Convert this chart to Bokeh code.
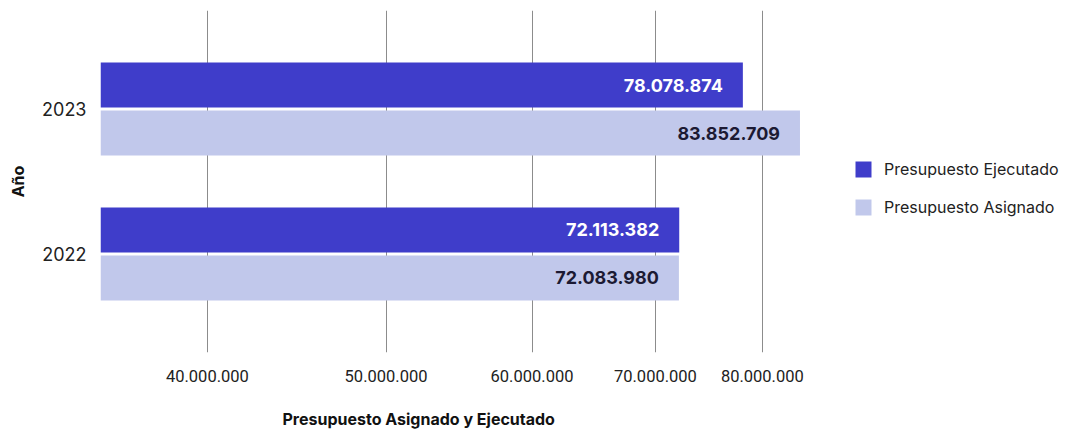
from bokeh.plotting import figure
from bokeh.models import (ColumnDataSource, FactorRange, Range1d, FixedTicker, Legend,
                          LegendItem, Title)
from bokeh.transform import dodge
from bokeh.core.properties import value
from bokeh.embed import file_html
from bokeh.resources import INLINE

# ---- data ----
years = ["2022", "2023"]
ejecutado = [72113382, 78078874]
asignado = [72083980, 83852709]
tick_values = [40000000, 50000000, 60000000, 70000000, 80000000]
tick_labels = ["40.000.000", "50.000.000", "60.000.000", "70.000.000", "80.000.000"]
series_names = ["Presupuesto Ejecutado", "Presupuesto Asignado"]
x_title = "Presupuesto Asignado y Ejecutado"
y_title = "Año"


def fmt(v):
    return f"{v:,}".replace(",", ".")


DARK = "#3f3dca"
LIGHT = "#c1c8eb"
TXT_DARK = "#1c1a33"
FONT = "Inter"

x_start = 35000000
x_end = 89650000

src = ColumnDataSource(dict(
    year=years,
    ejec=ejecutado,
    asig=asignado,
    ejec_lbl=[fmt(v) for v in ejecutado],
    asig_lbl=[fmt(v) for v in asignado],
))

p = figure(
    frame_width=753, frame_height=342,
    x_axis_type="log",
    x_range=Range1d(x_start, x_end),
    y_range=FactorRange(factors=years, range_padding=0.18, range_padding_units="absolute"),
    output_backend="svg", toolbar_location=None,
    min_border_top=10, min_border_left=100, min_border_bottom=82, min_border_right=0,
    outline_line_color=None,
)

off = 0.1656
bh = 0.3105
r_e = p.hbar(y=dodge("year", off, range=p.y_range), left=x_start, right="ejec",
             height=bh, source=src, fill_color=DARK, line_color=None)
r_a = p.hbar(y=dodge("year", -off, range=p.y_range), left=x_start, right="asig",
             height=bh, source=src, fill_color=LIGHT, line_color=None)

p.text(x="ejec", y=dodge("year", off, range=p.y_range), text="ejec_lbl", source=src,
       x_offset=-20, text_align="right", text_baseline="middle",
       text_font=value(FONT), text_font_style="bold", text_font_size="18px",
       text_color="white")
p.text(x="asig", y=dodge("year", -off, range=p.y_range), text="asig_lbl", source=src,
       x_offset=-20, text_align="right", text_baseline="middle",
       text_font=value(FONT), text_font_style="bold", text_font_size="18px",
       text_color=TXT_DARK)

# axes
xa = p.xaxis[0]
xa.ticker = FixedTicker(ticks=tick_values, minor_ticks=[])
xa.major_label_overrides = {t: l for t, l in zip(tick_values, tick_labels)}
xa.axis_line_color = None
xa.major_tick_line_color = None
xa.minor_tick_line_color = None
xa.major_label_standoff = 11
xa.major_label_text_font = "Roboto"
xa.major_label_text_font_size = "16.5px"
xa.major_label_text_color = "#222222"

ya = p.yaxis[0]
ya.axis_line_color = None
ya.major_tick_line_color = None
ya.minor_tick_line_color = None
ya.major_label_standoff = 8
ya.major_label_text_font = FONT
ya.major_label_text_font_size = "18px"
ya.major_label_text_color = "#222222"
ya.axis_label = y_title
ya.axis_label_text_font = FONT
ya.axis_label_text_font_style = "bold"
ya.axis_label_text_font_size = "16px"
ya.axis_label_text_color = "#111111"
ya.axis_label_standoff = 11

p.xgrid.ticker = FixedTicker(ticks=tick_values, minor_ticks=[])
p.xgrid.grid_line_color = "#8c8c8c"
p.xgrid.grid_line_width = 1
p.ygrid.grid_line_color = None

t = Title(text=x_title, align="left", offset=182, standoff=44, text_font=FONT,
          text_font_style="bold", text_font_size="16px", text_color="#111111")
p.add_layout(t, "below")

legend = Legend(items=[LegendItem(label=series_names[0], renderers=[r_e]),
                       LegendItem(label=series_names[1], renderers=[r_a])],
                location=(0, 135), margin=0, padding=0, spacing=18,
                glyph_width=20, glyph_height=20, label_standoff=11,
                label_text_font=FONT, label_text_font_size="16px",
                label_text_color="#222222", border_line_color=None,
                background_fill_alpha=0)
p.add_layout(legend, "right")

open("out.html", "w").write(file_html(p, INLINE))
